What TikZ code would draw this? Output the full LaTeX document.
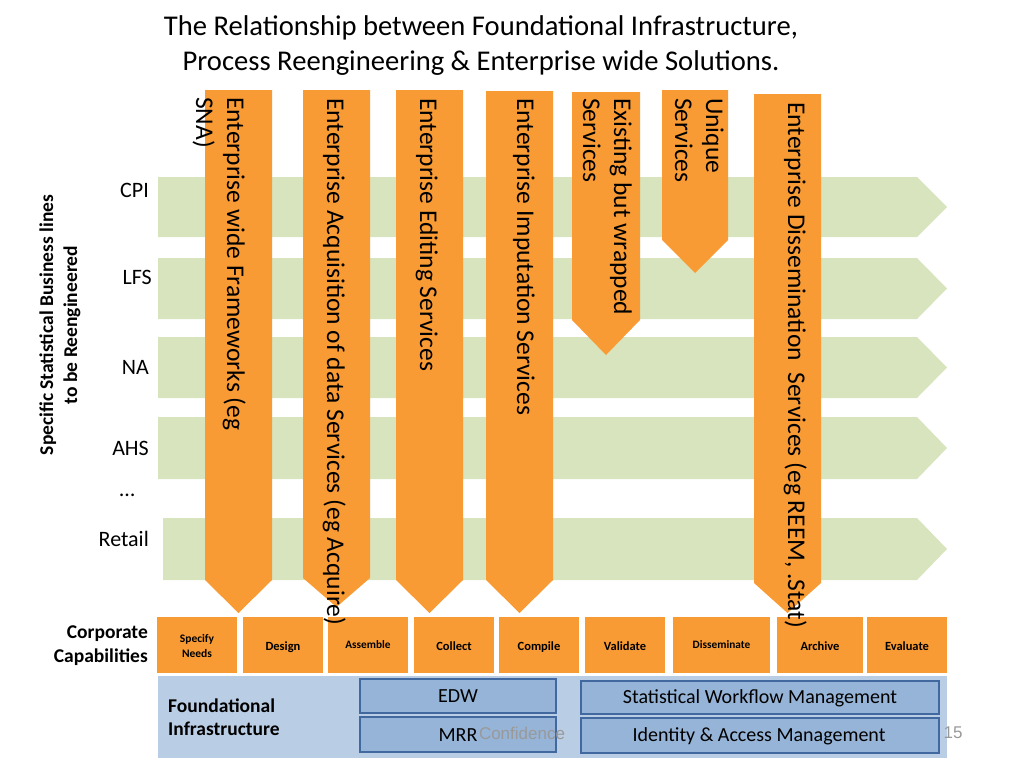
\documentclass[tikz,border=0pt]{standalone}
\usepackage{fontspec}
\setmainfont{Carlito}
\newfontfamily\footfont{Liberation Sans}
\definecolor{capOrange}{RGB}{249,155,52}
\definecolor{lineGreen}{RGB}{215,228,190}
\definecolor{infraBlue}{RGB}{185,205,228}
\definecolor{toolBlue}{RGB}{150,180,215}
\definecolor{toolEdge}{RGB}{65,105,160}
\begin{document}
\begin{tikzpicture}[x=1pt, y=-1pt,
    vtext/.style={rotate=-90, anchor=base west, inner sep=0pt, align=left, font=\fontsize{25.5}{31}\selectfont},
    rowlabel/.style={anchor=east, inner sep=0pt, font=\fontsize{22}{26}\selectfont},
    capbox/.style={font=\bfseries\fontsize{12.5}{14}\selectfont, align=center, inner sep=0pt},
    toolbox/.style={fill=toolBlue, draw=toolEdge, line width=1.2pt},
    tooltext/.style={font=\fontsize{20}{24}\selectfont}]
    \useasboundingbox (0, 0) rectangle (1024, 768);

    \node[align=center, font=\fontsize{28.6}{35}\selectfont] (title) at (481, 46)
        {The Relationship between Foundational Infrastructure,\\Process Reengineering \& Enterprise wide Solutions.};

    \foreach \top/\bot/\lft in {177/237/158, 258/319/158, 337/398/158, 417/479/158, 518/580/163} {
        \fill[lineGreen] (\lft, \top) -- (917, \top) -- (947, {(\top + \bot) / 2}) -- (917, \bot) -- (\lft, \bot) -- cycle;
    }

    \node[rowlabel] (cpi) at (149, 190) {CPI};
    \node[rowlabel] (lfs) at (152, 277) {LFS};
    \node[rowlabel] (na) at (149, 367) {NA};
    \node[rowlabel] (ahs) at (149, 448) {AHS};
    \node[rowlabel] (more) at (135, 495) {\dots};
    \node[rowlabel] (retail) at (149, 539) {Retail};

    \node[rotate=90, align=center, font=\bfseries\fontsize{19.5}{24}\selectfont] (lines) at (60, 325)
        {Specific Statistical Business lines\\to be Reengineered};

    \foreach \l/\r/\top/\bot/\tip in {205/272/90/580/613, 303/370/90/578/607, 396/463/90/580/613,
        486/553/91/580/613, 572/640/92/320/355, 662/728/90/240/273, 754/821/94/583/613} {
        \fill[capOrange] (\l, \top) -- (\r, \top) -- (\r, \bot) -- ({(\l + \r) / 2}, \tip) -- (\l, \bot) -- cycle;
    }

    \fill[capOrange] (157, 617) rectangle (237, 673);
    \node[capbox, font=\bfseries\fontsize{11.5}{15}\selectfont] (specify) at (197, 646) {Specify\\Needs};
    \foreach \l/\r/\name/\txt in {243/323/design/Design, 414/494/collect/Collect, 499/579/compile/Compile,
        585/665/validate/Validate, 777/863/archive/Archive, 867/947/evaluate/Evaluate} {
        \fill[capOrange] (\l, 617) rectangle (\r, 673);
        \node[capbox, anchor=base] (\name) at ({(\l + \r) / 2}, 650) {\txt};
    }
    \foreach \l/\r/\name/\txt in {328/408/assemble/Assemble, 673/770/disseminate/Disseminate} {
        \fill[capOrange] (\l, 617) rectangle (\r, 673);
        \node[capbox, anchor=base, font=\bfseries\fontsize{11.3}{13}\selectfont] (\name) at ({(\l + \r) / 2}, 648.5) {\txt};
    }

    \node[vtext] (frameworks) at (196, 97) {Enterprise wide Frameworks (eg\\SNA)};
    \node[vtext] (acquisition) at (327, 98) {Enterprise Acquisition of data Services (eg Acquire)};
    \node[vtext] (editing) at (420, 98) {Enterprise Editing Services};
    \node[vtext] (imputation) at (517, 98) {Enterprise Imputation Services};
    \node[vtext] (wrapped) at (583, 98) {Existing but wrapped\\Services};
    \node[vtext] (unique) at (675, 98) {Unique\\Services};
    \node[vtext] (dissemination) at (788, 102) {Enterprise Dissemination~ Services (eg REEM, .Stat)};

    \node[anchor=east, align=right, inner sep=0pt, font=\bfseries\fontsize{19.5}{24}\selectfont] (corporate) at (148, 646)
        {Corporate\\Capabilities};

    \fill[infraBlue] (158, 676) rectangle (947, 758);
    \node[anchor=west, align=left, inner sep=0pt, font=\bfseries\fontsize{19.5}{23}\selectfont] (foundational) at (168, 717)
        {Foundational\\Infrastructure};

    \draw[toolbox] (360, 679) rectangle (556, 713);
    \draw[toolbox] (360, 717) rectangle (556, 752);
    \draw[toolbox] (581, 681) rectangle (939, 714);
    \draw[toolbox] (581, 718) rectangle (939, 753);

    \node[tooltext] (edw) at (458, 696) {EDW};
    \node[tooltext] (mrr) at (458, 735) {MRR};
    \node[tooltext] (workflow) at (760, 698) {Statistical Workflow Management};
    \node[tooltext] (identity) at (759, 736) {Identity \& Access Management};

    \node[text=black!40, font=\footfont\fontsize{17}{20}\selectfont] (confidence) at (522, 733) {Confidence};
    \node[text=black!40, font=\footfont\fontsize{17}{20}\selectfont] (page) at (953, 733) {15};
\end{tikzpicture}
\end{document}
